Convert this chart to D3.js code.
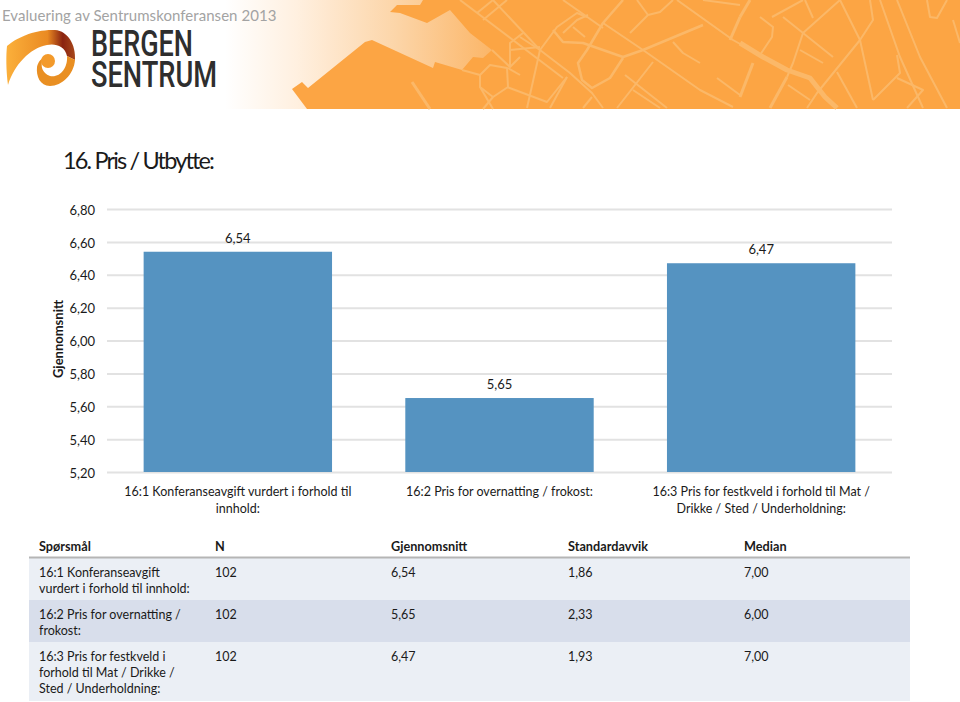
<!DOCTYPE html>
<html>
<head>
<meta charset="utf-8">
<script src="https://cdn.jsdelivr.net/npm/d3@7"></script>
<style>
html, body { margin: 0; padding: 0; background: #fff; overflow: hidden; }
svg { display: block; font-family: Lato, "Open Sans", sans-serif; }
</style>
</head>
<body>
<script>
var headerText = "Evaluering av Sentrumskonferansen 2013";
var chartTitle = "16. Pris / Utbytte:";
var yAxisLabel = "Gjennomsnitt";

var categoryLines = [
    ["16:1 Konferanseavgift vurdert i forhold til", "innhold:"],
    ["16:2 Pris for overnatting / frokost:"],
    ["16:3 Pris for festkveld i forhold til Mat /", "Drikke / Sted / Underholdning:"]
];
var means = [6.54, 5.65, 6.47];
var yTicks = [5.2, 5.4, 5.6, 5.8, 6.0, 6.2, 6.4, 6.6, 6.8];

var tableHeaders = ["Spørsmål", "N", "Gjennomsnitt", "Standardavvik", "Median"];
var questionLines = [
    ["16:1 Konferanseavgift", "vurdert i forhold til innhold:"],
    ["16:2 Pris for overnatting /", "frokost:"],
    ["16:3 Pris for festkveld i", "forhold til Mat / Drikke /", "Sted / Underholdning:"]
];
var counts = [102, 102, 102];
var stdDevs = [1.86, 2.33, 1.93];
var medians = [7.00, 6.00, 7.00];

var outerWidth = 960;
var outerHeight = 702;
var comma = function(v){ return d3.format(".2f")(v).replace(".", ","); };

var svg = d3.select("body").append("svg")
    .attr("width", outerWidth)
    .attr("height", outerHeight);

/******************************
/* page header
******************************/
var defs = svg.append("defs");
var fade = defs.append("linearGradient").attr("id", "fade");
fade.append("stop").attr("offset", "0").attr("stop-color", "#fff");
fade.append("stop").attr("offset", "0.25").attr("stop-color", "#fff0e0");
fade.append("stop").attr("offset", "0.6").attr("stop-color", "#fcd5a8");
fade.append("stop").attr("offset", "1").attr("stop-color", "#fbb05c");

var swirl = defs.append("linearGradient").attr("id", "swirl");
swirl.append("stop").attr("offset", "0").attr("stop-color", "#fbb03b");
swirl.append("stop").attr("offset", "0.6").attr("stop-color", "#ea8a22");
swirl.append("stop").attr("offset", "0.82").attr("stop-color", "#8a2311");
swirl.append("stop").attr("offset", "1").attr("stop-color", "#a8481a");

var header = svg.append("g");
header.append("rect")
    .attr("x", 225).attr("y", 0).attr("width", 285).attr("height", 109)
    .attr("fill", "url(#fade)");
header.append("rect")
    .attr("x", 505).attr("y", 0).attr("width", 455).attr("height", 109)
    .attr("fill", "#fca544");

// land around the harbour
header.append("path")
    .attr("d", "M292,89 L302,82 L308,88 L365,42 L372,40 L433,68 L435,62 L462,70 L473,57 L483,58 L492,50 L470,33 L450,10 L427,23 L400,13 L390,12 L397,5 L420,5 L423,0 L520,0 L520,109 L307,109 Z")
    .attr("fill", "#fca544");

// street map, light lines on the orange
var streets = [
    ["M412,82 L430,109", 3],
    ["M480,75 L490,65 L507,68 L508,87 L493,97 L480,87 Z", 2],
    ["M462,70 L480,75", 2], ["M480,87 L493,109", 2], ["M493,97 L483,109", 2],
    ["M492,50 L510,67 L520,57", 2], ["M508,68 L520,75", 2], ["M507,87 L547,102 L567,77", 2],
    ["M460,0 L563,78", 2], ["M477,13 L493,0", 2], ["M483,20 L507,0", 2], ["M493,0 L540,50", 2],
    ["M510,67 L510,43 L523,33", 2],
    ["M540,50 L570,73 L592,93 L603,108", 2],
    ["M520,37 L540,50 L557,27 L577,13 L587,17", 2],
    ["M540,50 L527,108", 2], ["M510,50 L540,47", 2],
    ["M553,30 L563,42 L583,43 L603,50 L623,57 L643,50 L703,25", 2.5],
    ["M623,0 L603,23 L587,50 L578,63 L582,80 L592,88 L610,78 L623,58", 2.5],
    ["M603,23 L643,50 L700,90 L733,107", 2],
    ["M677,0 L733,40 L760,55", 2],
    ["M637,0 L648,15", 2], ["M648,15 L660,12 L673,0", 2], ["M648,15 L630,33", 2],
    ["M673,42 L683,53 L700,63", 2],
    ["M653,62 L617,108", 2], ["M625,75 L667,108", 2], ["M717,78 L740,95", 2],
    ["M633,90 L660,108", 2], ["M567,77 L550,108", 2], ["M592,97 L583,108", 2],
    ["M563,0 L603,28", 2], ["M573,27 L585,37", 2], ["M563,33 L577,20 L588,15", 2],
    ["M740,17 L730,40", 3], ["M740,17 L750,0", 3], ["M703,0 L740,5", 2],
    ["M740,43 L763,57 L787,70 L810,78 L825,97 L837,108", 5],
    ["M760,17 L773,27 L772,37 L760,55", 2],
    ["M772,17 L803,0", 2], ["M783,17 L833,57", 2], ["M805,0 L813,18", 2], ["M803,33 L840,0", 2],
    ["M803,33 L793,63 L787,77", 2], ["M800,50 L823,63", 2],
    ["M840,0 L860,40 L873,100", 2], ["M870,0 L873,20 L860,40 L817,93 L807,108", 2],
    ["M880,0 L900,57 L923,108", 2], ["M897,0 L920,57 L947,108", 2],
    ["M837,72 L857,108", 2], ["M873,100 L900,73 L897,55", 2], ["M897,78 L923,90 L907,108", 2],
    ["M753,63 L740,97", 3], ["M787,77 L770,108", 3], ["M788,85 L810,100", 2],
    ["M927,0 L930,17 L937,18 L947,0", 2], ["M953,20 L960,43", 2]
];
header.selectAll("path.street")
    .data(streets)
    .enter()
    .append("path")
    .attr("class", "street")
    .attr("d", function(d){ return d[0]; })
    .attr("fill", "none")
    .attr("stroke", "#fbb868")
    .attr("stroke-width", function(d){ return d[1]; })
    .attr("stroke-linejoin", "round");

header.append("text")
    .attr("x", 2).attr("y", 21)
    .attr("font-size", 15)
    .attr("letter-spacing", 0.05)
    .attr("fill", "#a3a3a3")
    .text(headerText);

// logo
header.append("path")
    .attr("d", "M8,85 C6,70 6,55 7,46 C16,38 35,29 55,30 C68,31 76,45 75,60 L67,56 C65,46 55,43 47,45 C30,48 14,65 8,85 Z")
    .attr("fill", "url(#swirl)");
header.append("path")
    .attr("d", "M75,60 C74,74 62,86 50,86 C40,86 36,76 37,67 C38,62 41,59 43,58 C40,66 42,73 50,76 C60,78 68,68 67,56 Z")
    .attr("fill", "#e98f22");
header.append("circle")
    .attr("cx", 48).attr("cy", 61).attr("r", 7)
    .attr("fill", "#f39a2b");
header.append("text")
    .attr("x", 91).attr("y", 56)
    .attr("font-family", "Roboto")
    .attr("font-size", 37)
    .attr("font-weight", 500)
    .attr("textLength", 102)
    .attr("lengthAdjust", "spacingAndGlyphs")
    .attr("fill", "#2e2e2e")
    .text("BERGEN");
header.append("text")
    .attr("x", 91).attr("y", 87)
    .attr("font-family", "Roboto")
    .attr("font-size", 37)
    .attr("font-weight", 500)
    .attr("textLength", 126)
    .attr("lengthAdjust", "spacingAndGlyphs")
    .attr("fill", "#2e2e2e")
    .text("SENTRUM");

svg.append("text")
    .attr("x", 63).attr("y", 169)
    .attr("font-size", 23.5)
    .attr("letter-spacing", -1.85)
    .attr("fill", "#1a1a1a")
    .text(chartTitle);

/******************************
/* chart
******************************/
var x = d3.scaleBand()
    .domain(d3.range(means.length))
    .range([107, 892])
    .paddingInner(0.28)
    .paddingOuter(0.14);

var y = d3.scaleLinear()
    .domain([5.2, 6.8])
    .range([472, 209]);

var yAxis = svg.append("g")
    .attr("transform", "translate(107,0)")
    .call(d3.axisLeft(y).tickValues(yTicks).tickFormat(comma).tickSize(-785).tickPadding(12));
yAxis.select(".domain").remove();
yAxis.selectAll("line").attr("stroke", "#e2e2e2").attr("stroke-width", 2);
yAxis.selectAll("text")
    .attr("dy", "0.4em")
    .attr("font-family", "Lato")
    .attr("font-size", 13)
    .attr("fill", "#1a1a1a");

svg.append("text")
    .attr("transform", "translate(63,339) rotate(-90)")
    .attr("text-anchor", "middle")
    .attr("font-size", 13)
    .attr("font-weight", "bold")
    .attr("fill", "#1a1a1a")
    .text(yAxisLabel);

svg.selectAll("rect.bar")
    .data(means)
    .enter()
    .append("rect")
    .attr("class", "bar")
    .attr("x", function(d, i){ return x(i); })
    .attr("y", function(d){ return y(d); })
    .attr("width", x.bandwidth())
    .attr("height", function(d){ return y(5.2) - y(d); })
    .attr("fill", "#5593c1");

svg.selectAll("text.value")
    .data(means)
    .enter()
    .append("text")
    .attr("class", "value")
    .attr("x", function(d, i){ return x(i) + x.bandwidth() / 2; })
    .attr("y", function(d){ return y(d) - 9; })
    .attr("text-anchor", "middle")
    .attr("font-size", 13)
    .attr("fill", "#1a1a1a")
    .text(comma);

var catLabels = svg.selectAll("text.category")
    .data(categoryLines)
    .enter()
    .append("text")
    .attr("class", "category")
    .attr("text-anchor", "middle")
    .attr("font-size", 12.5)
    .attr("fill", "#1a1a1a");
catLabels.selectAll("tspan")
    .data(function(d, i){ return d.map(function(line){ return { line: line, i: i }; }); })
    .enter()
    .append("tspan")
    .attr("x", function(d){ return x(d.i) + x.bandwidth() / 2; })
    .attr("y", function(d, j){ return 496 + j * 16.5; })
    .text(function(d){ return d.line; });

/******************************
/* table
******************************/
var tableLeft = 29;
var tableRight = 910;
var lineHeight = 16.2;
var columnX = [39, 215, 391, 568, 744];
var rowFills = ["#ebeff5", "#d8deeb", "#ebeff5"];
var rowTops = [558, 600, 642];
var rowBottoms = [600, 642, 701];

svg.selectAll("text.head")
    .data(tableHeaders)
    .enter()
    .append("text")
    .attr("class", "head")
    .attr("x", function(d, i){ return columnX[i]; })
    .attr("y", 550.5)
    .attr("font-size", 12.7)
    .attr("font-weight", "bold")
    .attr("fill", "#1a1a1a")
    .text(function(d){ return d; });

svg.selectAll("rect.row")
    .data(rowTops)
    .enter()
    .append("rect")
    .attr("class", "row")
    .attr("x", tableLeft)
    .attr("y", function(d){ return d; })
    .attr("width", tableRight - tableLeft)
    .attr("height", function(d, i){ return rowBottoms[i] - d; })
    .attr("fill", function(d, i){ return rowFills[i]; });

svg.append("rect")
    .attr("x", tableLeft).attr("y", 556.5)
    .attr("width", tableRight - tableLeft).attr("height", 2)
    .attr("fill", "#b5b5b5");

var rows = svg.selectAll("g.row")
    .data(means)
    .enter()
    .append("g")
    .attr("class", "row")
    .attr("transform", function(d, i){ return "translate(0," + rowTops[i] + ")"; });

rows.append("text")
    .attr("font-size", 12.5)
    .attr("fill", "#1a1a1a")
    .selectAll("tspan")
    .data(function(d, i){ return questionLines[i]; })
    .enter()
    .append("tspan")
    .attr("x", columnX[0])
    .attr("y", function(d, j){ return 19 + j * lineHeight; })
    .text(function(d){ return d; });

rows.selectAll("text.cell")
    .data(function(d, i){ return [counts[i], comma(d), comma(stdDevs[i]), comma(medians[i])]; })
    .enter()
    .append("text")
    .attr("class", "cell")
    .attr("x", function(d, j){ return columnX[j + 1]; })
    .attr("y", 19)
    .attr("font-size", 12.5)
    .attr("fill", "#1a1a1a")
    .text(function(d){ return d; });
</script>
</body>
</html>
